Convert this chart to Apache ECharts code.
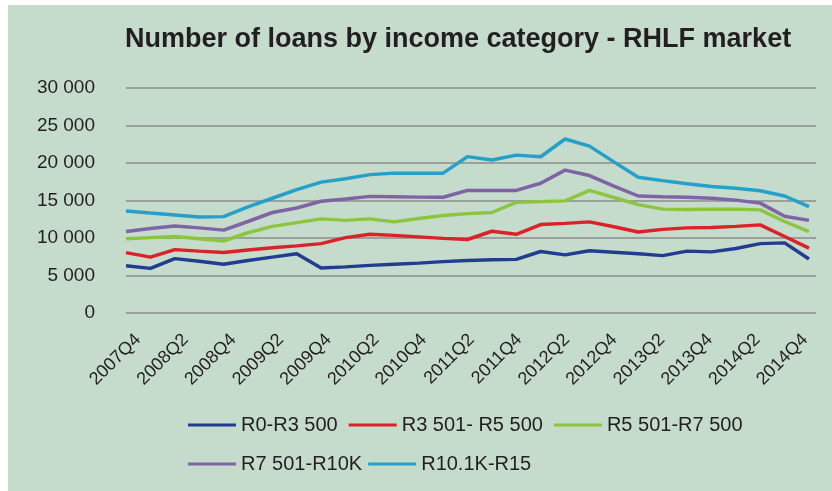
<!DOCTYPE html>
<html>
<head>
<meta charset="utf-8">
<script src="https://cdn.jsdelivr.net/npm/echarts@6/dist/echarts.min.js"></script>
<style>
  html, body { margin: 0; padding: 0; background: #ffffff; width: 832px; height: 491px; overflow: hidden; }
  #c { position: absolute; left: 8px; top: 5px; width: 824px; height: 486px; }
</style>
</head>
<body>
<div id="c"></div>
<script>
const categories = [
  '2007Q4',
  '2008Q1','2008Q2','2008Q3','2008Q4',
  '2009Q1','2009Q2','2009Q3','2009Q4',
  '2010Q1','2010Q2','2010Q3','2010Q4',
  '2011Q1','2011Q2','2011Q3','2011Q4',
  '2012Q1','2012Q2','2012Q3','2012Q4',
  '2013Q1','2013Q2','2013Q3','2013Q4',
  '2014Q1','2014Q2','2014Q3','2014Q4'
];
const seriesNames = ['R0-R3 500', 'R3 501- R5 500', 'R5 501-R7 500', 'R7 501-R10K', 'R10.1K-R15'];
const r0_r3500 = [6300, 5950, 7250, 6900, 6500, 7000, 7450, 7900, 6000, 6150, 6350, 6500, 6650, 6850, 7000, 7100, 7150, 8200, 7750, 8300, 8100, 7900, 7650, 8250, 8150, 8600, 9250, 9350, 7200];
const r3501_r5500 = [8050, 7450, 8450, 8250, 8070, 8400, 8700, 8950, 9250, 10050, 10500, 10350, 10150, 9950, 9800, 10900, 10500, 11800, 11950, 12150, 11500, 10800, 11150, 11350, 11400, 11550, 11750, 10200, 8650];
const r5501_r7500 = [9900, 10050, 10200, 9900, 9600, 10700, 11550, 12050, 12550, 12350, 12550, 12150, 12600, 13000, 13250, 13400, 14750, 14850, 14950, 16350, 15400, 14450, 13850, 13800, 13850, 13850, 13750, 12200, 10850];
const r7501_r10k = [10880, 11280, 11600, 11350, 11050, 12200, 13400, 14000, 14900, 15200, 15550, 15500, 15450, 15430, 16350, 16350, 16350, 17300, 19050, 18330, 16920, 15600, 15500, 15430, 15300, 15050, 14650, 12900, 12350];
const r10k_r15 = [13600, 13330, 13070, 12810, 12850, 14150, 15300, 16450, 17450, 17900, 18450, 18650, 18650, 18650, 20850, 20400, 21050, 20830, 23200, 22250, 20150, 18100, 17650, 17220, 16880, 16620, 16300, 15600, 14170];
const yTicks = { min: 0, max: 30000, interval: 5000 };

const colors = ['#213d8f', '#dc2229', '#8cc63f', '#7f63a5', '#25a0c8'];
const allData = [r0_r3500, r3501_r5500, r5501_r7500, r7501_r10k, r10k_r15];
const txt = '#231f20';
const font = "'Liberation Sans', Arial, Helvetica, sans-serif";

function fmt(v) { return String(v).replace(/\B(?=(\d{3})+(?!\d))/g, ' '); }

const chart = echarts.init(document.getElementById('c'), null, { renderer: 'canvas' });
chart.setOption({
  backgroundColor: '#c5dbcb',
  animation: false,
  title: {
    text: 'Number of loans by income category - RHLF market',
    left: 112, top: 16,
    textStyle: { fontFamily: font, fontWeight: 'bold', fontSize: 27, color: txt }
  },
  legend: [
    {
      data: seriesNames.slice(0, 3).map(n => ({ name: n, icon: 'rect' })),
      left: 175, top: 405, itemWidth: 48, itemHeight: 3, itemGap: 11,
      textStyle: { fontFamily: font, fontSize: 20, color: txt }
    },
    {
      data: seriesNames.slice(3).map(n => ({ name: n, icon: 'rect' })),
      left: 175, top: 444, itemWidth: 48, itemHeight: 3, itemGap: 6,
      textStyle: { fontFamily: font, fontSize: 20, color: txt }
    }
  ],
  grid: [
    { left: 118, right: 23, top: 83, bottom: 178 },
    { left: 118, right: 16, top: 83, bottom: 178 },
    { left: 130, right: 27, top: 83, bottom: 178 }
  ],
  xAxis: [
    { gridIndex: 0, type: 'category', data: categories, boundaryGap: false, show: false },
    { gridIndex: 1, type: 'value', show: false, min: 0, max: 1 },
    {
      gridIndex: 2, type: 'category', data: categories, boundaryGap: false,
      axisLine: { show: false }, axisTick: { show: false }, splitLine: { show: false },
      axisLabel: { interval: 1, rotate: 45, margin: 24, fontFamily: font, fontSize: 18, color: txt }
    }
  ],
  yAxis: [
    { gridIndex: 0, type: 'value', min: yTicks.min, max: yTicks.max, interval: yTicks.interval, show: false },
    {
      gridIndex: 1, type: 'value', min: yTicks.min, max: yTicks.max, interval: yTicks.interval,
      axisLine: { show: false }, axisTick: { show: false },
      splitLine: { show: true, lineStyle: { color: '#8b8d8b', width: 1.5 } },
      axisLabel: { margin: 31, fontFamily: font, fontSize: 19, color: txt, formatter: fmt }
    },
    { gridIndex: 2, type: 'value', min: yTicks.min, max: yTicks.max, show: false }
  ],
  series: seriesNames.map((n, k) => ({
    name: n, type: 'line', xAxisIndex: 0, yAxisIndex: 0,
    data: allData[k], symbol: 'none', showSymbol: false,
    lineStyle: { color: colors[k], width: 3.5 }, itemStyle: { color: colors[k] },
    z: 2 + k
  }))
});
</script>
</body>
</html>
